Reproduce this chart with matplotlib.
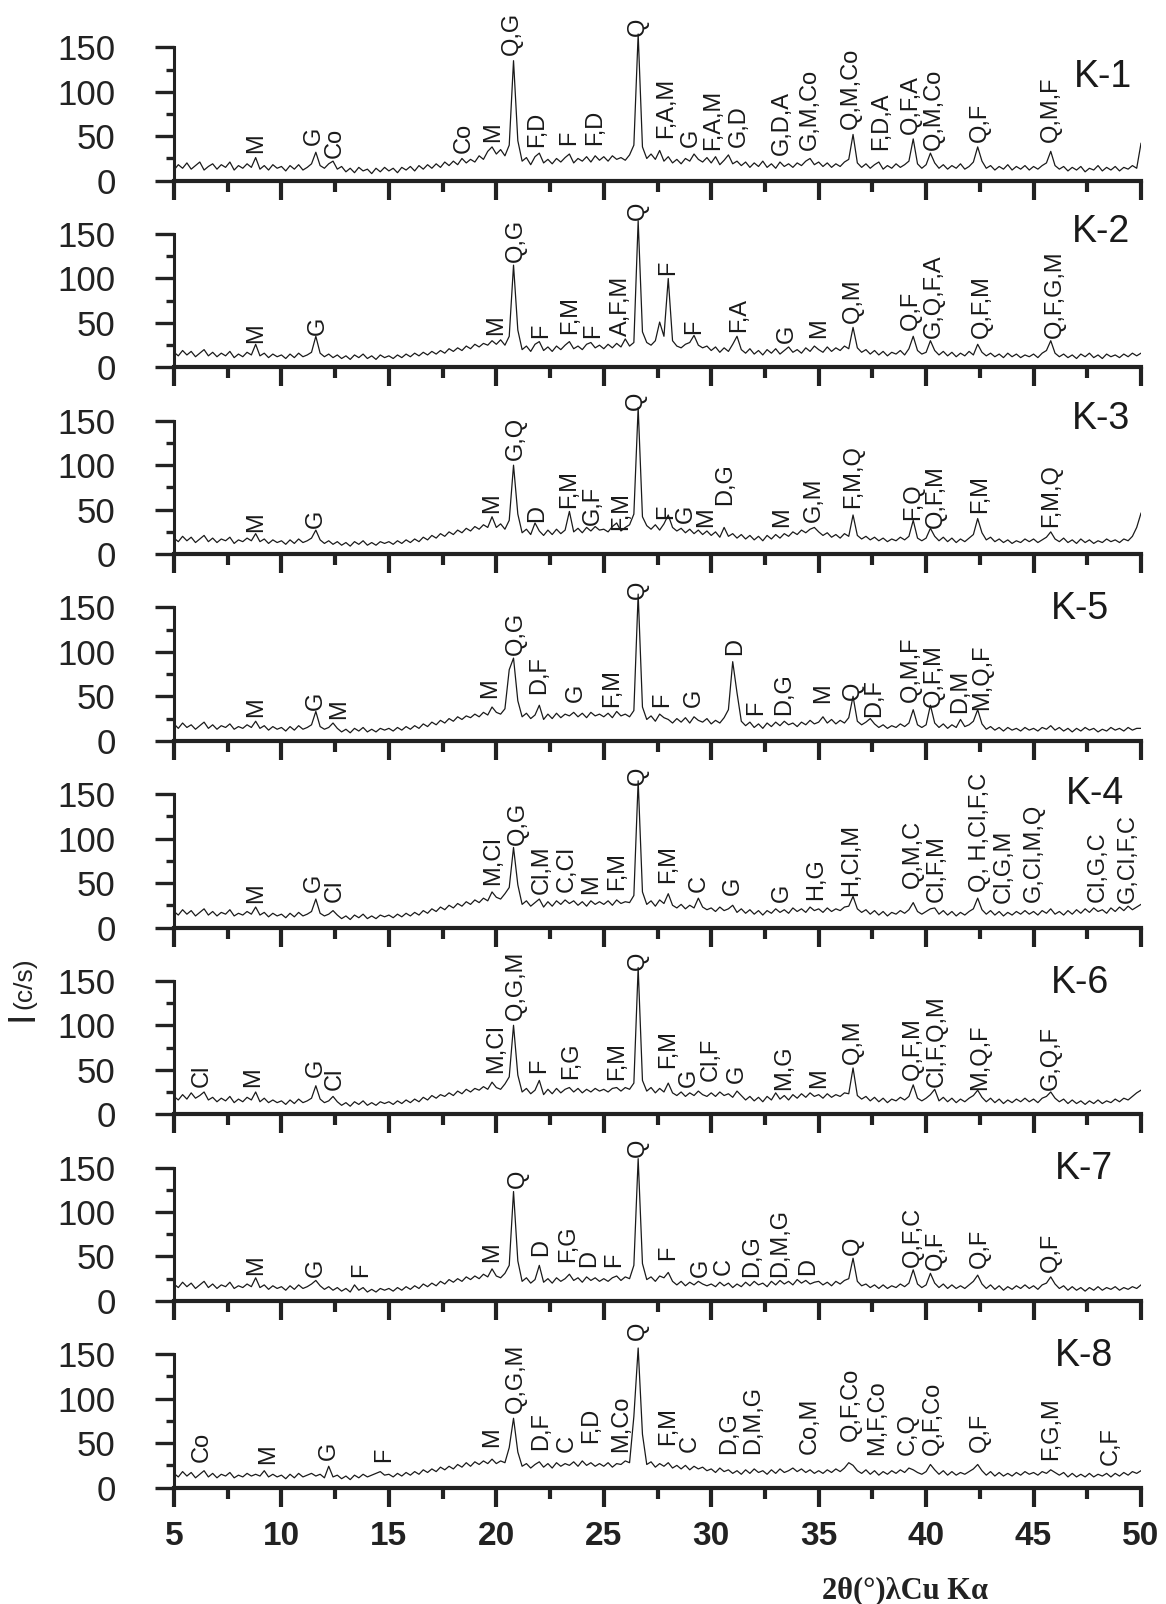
import numpy as np
import matplotlib.pyplot as plt
from matplotlib.ticker import MultipleLocator, FixedLocator

plt.rcParams['font.family'] = ['Liberation Sans', 'DejaVu Sans']

# 2-theta sampling of the scans (degrees, Cu K-alpha)
TWO_THETA = np.round(np.arange(5.0, 50.0001, 0.2), 1)

SAMPLES = ["K-1", "K-2", "K-3", "K-5", "K-4", "K-6", "K-7", "K-8"]

# intensities (c/s), one row per 5 degrees
K1 = [12, 18, 14, 20, 13, 17, 21, 12, 16, 19, 13, 18, 15, 21, 12, 17, 14, 19, 15, 26, 13, 17, 12, 18, 14,
      16, 11, 17, 13, 18, 12, 15, 19, 32, 17, 14, 19, 22, 13, 16, 10, 14, 9, 15, 11, 13, 8, 14, 10, 15,
      11, 14, 9, 15, 12, 16, 11, 17, 13, 18, 14, 19, 15, 21, 17, 22, 18, 25, 20, 24, 21, 28, 24, 33, 38,
      30, 35, 28, 40, 135, 45, 22, 26, 18, 27, 31, 20, 24, 19, 25, 21, 26, 30, 20, 25, 22, 27, 21, 28, 23,
      27, 22, 28, 24, 26, 23, 29, 40, 165, 38, 25, 30, 24, 34, 22, 27, 20, 24, 19, 25, 22, 30, 24, 21, 26,
      20, 27, 18, 23, 29, 19, 22, 17, 21, 15, 20, 16, 22, 15, 19, 14, 21, 16, 19, 15, 20, 17, 22, 25, 18,
      21, 16, 20, 15, 19, 16, 21, 24, 52, 20, 15, 19, 14, 18, 21, 13, 17, 14, 19, 15, 18, 22, 47, 19, 14,
      18, 31, 20, 14, 18, 13, 17, 14, 19, 13, 16, 21, 38, 22, 14, 17, 12, 16, 13, 18, 12, 16, 13, 17, 12,
      16, 13, 17, 20, 33, 17, 13, 16, 11, 15, 12, 16, 10, 14, 12, 17, 11, 15, 12, 16, 11, 15, 13, 17, 14,
      42]
K2 = [17, 13, 19, 14, 18, 12, 16, 20, 13, 17, 12, 16, 13, 18, 11, 15, 12, 17, 14, 26, 13, 16, 11, 15, 12,
      14, 10, 15, 11, 16, 12, 14, 17, 35, 16, 12, 15, 11, 14, 10, 13, 9, 14, 11, 15, 10, 13, 9, 14, 11,
      13, 10, 14, 11, 15, 12, 16, 13, 17, 14, 18, 15, 19, 16, 21, 18, 22, 19, 24, 21, 26, 23, 27, 25, 30,
      26, 31, 25, 35, 115, 42, 20, 24, 18, 26, 29, 19, 23, 18, 24, 20, 25, 29, 21, 24, 20, 26, 28, 22, 25,
      21, 26, 22, 27, 23, 32, 24, 28, 165, 40, 28, 25, 30, 51, 35, 100, 30, 24, 22, 26, 28, 36, 25, 22, 24,
      19, 23, 17, 22, 18, 26, 35, 20, 16, 21, 15, 19, 14, 20, 16, 21, 15, 19, 23, 17, 20, 16, 22, 18, 24,
      20, 17, 23, 18, 22, 19, 24, 21, 45, 22, 17, 20, 15, 19, 14, 18, 13, 17, 15, 19, 14, 21, 35, 19, 15,
      17, 30, 19, 14, 18, 13, 17, 12, 16, 13, 18, 14, 26, 17, 13, 16, 12, 15, 11, 16, 12, 15, 11, 14, 12,
      15, 11, 16, 19, 30, 16, 12, 15, 11, 14, 10, 15, 12, 16, 11, 14, 10, 15, 12, 14, 11, 15, 12, 16, 13,
      16]
K3 = [18, 14, 20, 15, 19, 13, 17, 21, 14, 18, 13, 17, 15, 19, 12, 16, 14, 18, 15, 23, 14, 17, 12, 16, 13,
      15, 11, 16, 12, 17, 13, 15, 18, 27, 16, 12, 15, 11, 14, 10, 13, 9, 14, 11, 15, 10, 13, 10, 14, 12,
      14, 11, 15, 12, 16, 13, 17, 14, 19, 16, 21, 18, 23, 20, 25, 22, 27, 24, 29, 26, 31, 28, 33, 30, 42,
      30, 34, 28, 38, 100, 45, 24, 28, 22, 35, 26, 21, 27, 22, 28, 23, 27, 48, 25, 29, 24, 30, 26, 31, 27,
      28, 25, 31, 35, 26, 30, 33, 45, 165, 42, 32, 28, 33, 27, 34, 44, 30, 26, 29, 24, 28, 23, 27, 22, 26,
      21, 25, 19, 30, 20, 23, 18, 22, 17, 21, 16, 20, 15, 21, 17, 22, 18, 23, 20, 25, 22, 27, 24, 28, 30,
      25, 21, 24, 19, 22, 18, 23, 20, 44, 21, 17, 20, 16, 19, 15, 18, 14, 17, 15, 19, 16, 20, 38, 18, 15,
      18, 29, 20, 15, 19, 14, 18, 13, 17, 14, 18, 22, 40, 24, 16, 19, 14, 17, 13, 16, 12, 15, 13, 17, 14,
      17, 13, 16, 19, 25, 17, 14, 18, 13, 16, 12, 17, 13, 16, 12, 15, 13, 17, 14, 16, 13, 17, 15, 20, 30,
      46]
K5 = [19, 14, 20, 15, 18, 13, 17, 21, 14, 18, 13, 17, 15, 19, 13, 16, 14, 18, 15, 22, 14, 17, 12, 16, 13,
      15, 11, 16, 12, 17, 13, 15, 18, 33, 16, 13, 15, 20, 14, 10, 13, 9, 14, 11, 15, 10, 13, 10, 14, 12,
      14, 11, 15, 12, 16, 13, 17, 14, 19, 16, 21, 18, 23, 20, 25, 22, 27, 24, 28, 26, 30, 27, 32, 29, 38,
      32, 30, 36, 80, 93, 45, 27, 31, 25, 29, 40, 24, 30, 25, 31, 26, 30, 28, 32, 27, 31, 26, 32, 28, 30,
      27, 31, 26, 33, 28, 30, 27, 34, 165, 38, 24, 28, 22, 30, 26, 24, 20, 25, 21, 26, 20, 27, 23, 21, 25,
      19, 23, 20, 26, 35, 89, 54, 22, 17, 21, 15, 19, 14, 20, 16, 21, 17, 22, 18, 20, 16, 21, 18, 23, 19,
      21, 27, 20, 24, 19, 23, 20, 26, 50, 22, 18, 21, 25, 19, 15, 18, 14, 17, 15, 19, 16, 20, 35, 18, 15,
      18, 40, 20, 15, 19, 14, 18, 15, 24, 16, 18, 22, 35, 19, 13, 16, 12, 15, 11, 15, 12, 14, 11, 15, 12,
      14, 11, 15, 13, 17, 12, 15, 11, 14, 10, 14, 11, 15, 12, 14, 10, 13, 11, 15, 12, 14, 11, 15, 12, 14,
      14]
K4 = [18, 14, 20, 15, 19, 13, 17, 21, 14, 18, 13, 17, 15, 20, 13, 16, 14, 18, 15, 23, 14, 17, 12, 16, 13,
      15, 11, 16, 12, 17, 13, 15, 18, 32, 16, 13, 15, 19, 14, 10, 13, 9, 14, 11, 15, 10, 13, 10, 14, 12,
      14, 11, 15, 12, 16, 13, 17, 14, 19, 16, 21, 18, 23, 20, 25, 22, 27, 24, 29, 26, 31, 28, 33, 30, 40,
      34, 32, 38, 45, 90, 48, 26, 30, 24, 28, 32, 23, 29, 24, 30, 26, 31, 27, 30, 25, 29, 24, 30, 26, 29,
      26, 30, 25, 31, 27, 29, 28, 36, 165, 40, 26, 30, 24, 31, 27, 38, 25, 22, 26, 21, 25, 22, 33, 23, 20,
      22, 18, 23, 19, 21, 25, 17, 21, 16, 20, 15, 19, 14, 19, 16, 21, 17, 20, 16, 22, 18, 21, 17, 23, 19,
      21, 17, 22, 18, 21, 19, 23, 24, 35, 21, 17, 20, 15, 19, 14, 18, 13, 17, 15, 19, 16, 20, 28, 18, 15,
      18, 21, 22, 15, 19, 14, 18, 13, 17, 14, 18, 21, 33, 20, 15, 19, 14, 18, 13, 17, 14, 18, 15, 19, 15,
      18, 14, 19, 16, 21, 15, 18, 14, 19, 15, 20, 16, 21, 17, 22, 18, 20, 16, 22, 18, 23, 19, 24, 20, 23,
      26]
K6 = [20, 16, 22, 17, 24, 18, 21, 25, 16, 19, 14, 18, 15, 20, 13, 17, 14, 19, 16, 25, 14, 18, 13, 16, 13,
      15, 11, 16, 12, 17, 13, 15, 18, 32, 17, 13, 15, 20, 14, 10, 13, 9, 14, 11, 15, 10, 13, 10, 14, 12,
      14, 11, 15, 12, 16, 13, 17, 14, 19, 16, 21, 18, 22, 20, 24, 21, 26, 23, 28, 25, 29, 27, 31, 28, 36,
      30, 28, 34, 42, 100, 44, 25, 29, 23, 27, 38, 22, 28, 23, 29, 24, 28, 30, 25, 29, 24, 28, 25, 29, 26,
      28, 25, 29, 30, 26, 30, 28, 35, 165, 38, 26, 30, 24, 29, 25, 35, 24, 21, 25, 20, 24, 21, 26, 22, 20,
      24, 20, 25, 21, 23, 19, 26, 21, 16, 20, 15, 19, 14, 20, 16, 24, 17, 21, 16, 22, 18, 23, 19, 24, 20,
      22, 18, 23, 19, 22, 20, 24, 23, 52, 21, 17, 20, 15, 19, 14, 18, 13, 17, 15, 19, 16, 20, 33, 18, 15,
      18, 22, 28, 15, 19, 14, 18, 13, 17, 14, 18, 21, 27, 19, 14, 18, 13, 17, 12, 16, 13, 17, 14, 18, 14,
      17, 13, 18, 20, 25, 18, 14, 17, 12, 16, 12, 15, 11, 15, 12, 16, 12, 15, 13, 17, 14, 18, 16, 20, 24,
      27]
K7 = [19, 15, 21, 16, 20, 14, 18, 22, 15, 19, 14, 18, 16, 21, 14, 17, 15, 19, 16, 26, 15, 18, 13, 17, 14,
      16, 12, 17, 13, 18, 14, 16, 19, 23, 17, 13, 16, 12, 15, 11, 14, 10, 18, 12, 15, 10, 13, 10, 14, 12,
      14, 11, 15, 12, 16, 13, 17, 14, 19, 16, 20, 17, 22, 19, 24, 21, 25, 22, 27, 24, 28, 25, 30, 27, 36,
      28, 26, 31, 40, 123, 45, 22, 26, 20, 24, 40, 21, 25, 20, 26, 22, 25, 30, 23, 26, 21, 27, 23, 26, 22,
      25, 22, 26, 28, 23, 27, 25, 40, 160, 42, 24, 27, 22, 28, 26, 32, 22, 18, 22, 17, 21, 18, 22, 19, 17,
      19, 16, 21, 17, 20, 15, 19, 16, 21, 17, 22, 18, 20, 16, 22, 18, 23, 19, 22, 18, 24, 20, 23, 19, 21,
      22, 18, 21, 17, 22, 19, 23, 25, 48, 22, 17, 19, 15, 18, 14, 18, 14, 17, 15, 19, 16, 20, 35, 19, 15,
      18, 31, 20, 15, 19, 14, 18, 14, 17, 14, 18, 22, 29, 19, 14, 18, 13, 17, 12, 16, 13, 17, 14, 18, 14,
      17, 13, 18, 20, 27, 19, 14, 17, 12, 16, 12, 15, 11, 15, 12, 16, 12, 15, 13, 16, 12, 15, 13, 16, 14,
      18]
K8 = [16, 12, 18, 13, 17, 11, 15, 19, 12, 16, 11, 15, 13, 17, 11, 14, 12, 16, 13, 15, 13, 19, 12, 15, 12,
      14, 10, 15, 11, 16, 12, 14, 16, 13, 15, 11, 24, 12, 14, 10, 13, 9, 14, 11, 15, 12, 14, 16, 18, 14,
      15, 12, 16, 13, 17, 14, 18, 15, 20, 17, 21, 18, 23, 20, 24, 21, 26, 23, 28, 24, 29, 26, 30, 27, 32,
      27, 30, 28, 45, 78, 40, 24, 27, 22, 26, 29, 23, 27, 22, 28, 24, 27, 25, 29, 24, 30, 25, 28, 24, 27,
      24, 28, 23, 27, 26, 30, 28, 80, 157, 60, 26, 29, 23, 27, 24, 28, 22, 25, 21, 25, 20, 24, 21, 23, 19,
      21, 17, 22, 18, 20, 16, 19, 15, 20, 16, 21, 17, 19, 15, 20, 16, 21, 17, 19, 22, 18, 21, 17, 20, 16,
      19, 16, 20, 17, 21, 18, 22, 28, 25, 19, 16, 20, 15, 19, 14, 18, 15, 19, 16, 20, 17, 22, 20, 17, 15,
      18, 26, 20, 15, 19, 14, 18, 14, 17, 15, 18, 21, 26, 19, 14, 18, 13, 17, 13, 16, 13, 17, 14, 18, 15,
      17, 14, 18, 16, 20, 17, 14, 17, 12, 16, 12, 15, 12, 16, 12, 15, 13, 16, 12, 16, 13, 17, 14, 18, 16,
      19]

# phase labels: (text, 2-theta, height of label foot in c/s)
K1_PEAKS = [("M", 8.8, 31), ("G", 11.5, 40), ("Co", 12.5, 25), ("Co", 18.5, 31), ("M", 19.85, 44),
            ("Q,G", 20.7, 141), ("F,D", 21.9, 38), ("F", 23.4, 40), ("F,D", 24.6, 40), ("Q", 26.6, 163),
            ("F,A,M", 27.9, 48), ("G", 29.05, 38), ("F,A,M", 30.1, 35), ("G,D", 31.3, 38),
            ("G,D,A", 33.3, 29), ("G,M,Co", 34.6, 35), ("Q,M,Co", 36.5, 58), ("F,D,A", 37.9, 35),
            ("Q,F,A", 39.3, 53), ("Q,M,Co", 40.35, 35), ("Q,F", 42.5, 44), ("Q,M,F", 45.8, 44)]
K2_PEAKS = [("M", 8.8, 27), ("G", 11.7, 36), ("M", 20.0, 36), ("Q,G", 20.9, 119), ("F", 22.1, 33),
            ("F,M", 23.45, 38), ("F", 24.5, 33), ("A,F,M", 25.8, 35), ("Q", 26.6, 166), ("F", 28.0, 104),
            ("F", 29.2, 38), ("F,A", 31.3, 40), ("G", 33.5, 27), ("M", 35.0, 33), ("Q,M", 36.6, 50),
            ("Q,F", 39.3, 42), ("G,Q,F,A", 40.35, 33), ("Q,F,M", 42.6, 33), ("Q,F,G,M", 46.0, 33)]
K3_PEAKS = [("M", 8.8, 25), ("G", 11.6, 29), ("M", 19.8, 46), ("G,Q", 20.9, 106), ("D", 21.9, 36),
            ("F,M", 23.4, 52), ("G,F", 24.5, 33), ("F,M", 25.8, 27), ("Q", 26.5, 162), ("F", 27.9, 40),
            ("G", 28.8, 35), ("M", 29.75, 31), ("D,G", 30.65, 55), ("M", 33.3, 31), ("G,M", 34.8, 36),
            ("F,M,Q", 36.6, 52), ("F,Q", 39.4, 38), ("Q,F,M", 40.45, 29), ("F,M", 42.5, 46),
            ("F,M,Q", 45.8, 31)]
K5_PEAKS = [("M", 8.8, 27), ("G", 11.6, 35), ("M", 12.7, 25), ("M", 19.7, 48), ("Q,G", 20.9, 97),
            ("D,F", 22.0, 53), ("G", 23.7, 44), ("F,M", 25.4, 38), ("Q", 26.6, 160), ("F", 27.7, 38),
            ("G", 29.2, 38), ("D", 31.1, 97), ("F", 32.1, 29), ("D,G", 33.4, 29), ("M", 35.2, 42),
            ("Q", 36.6, 46), ("D,F", 37.6, 27), ("Q,M,F", 39.3, 44), ("Q,F,M", 40.35, 38),
            ("D,M", 41.6, 31), ("M,Q,F", 42.6, 35)]
K4_PEAKS = [("M", 8.8, 27), ("G", 11.5, 40), ("Cl", 12.5, 29), ("M,Cl", 19.85, 48), ("Q,G", 21.0, 93),
            ("Cl,M", 22.1, 38), ("C,Cl", 23.3, 40), ("M", 24.4, 38), ("F,M", 25.6, 42), ("Q", 26.6, 160),
            ("F,M", 28.0, 50), ("C", 29.4, 40), ("G", 31.0, 37), ("G", 33.3, 29), ("H,G", 34.9, 31),
            ("H,Cl,M", 36.5, 35), ("Q,M,C", 39.4, 44), ("Cl,F,M", 40.5, 29), ("Q, H,Cl,F,C", 42.5, 40),
            ("Cl,G,M", 43.6, 27), ("G,Cl,M,Q", 45.0, 29), ("Cl,G,C", 48.0, 29), ("G,Cl,F,C", 49.4, 27)]
K6_PEAKS = [("Cl", 6.3, 31), ("M", 8.7, 31), ("G", 11.6, 42), ("Cl", 12.5, 27), ("M,Cl", 20.0, 46),
            ("Q,G,M", 20.9, 106), ("F", 22.0, 46), ("F,G", 23.5, 40), ("F,M", 25.6, 38), ("Q", 26.6, 162),
            ("F,M", 28.0, 52), ("G", 28.95, 31), ("Cl,F", 30.0, 37), ("G", 31.2, 35), ("M,G", 33.4, 27),
            ("M", 35.0, 29), ("Q,M", 36.6, 57), ("Q,F,M", 39.4, 38), ("Cl,F,Q,M", 40.5, 31),
            ("M,Q,F", 42.5, 27), ("G,Q,F", 45.8, 27)]
K7_PEAKS = [("M", 8.8, 29), ("G", 11.6, 27), ("F", 13.7, 27), ("M", 19.8, 44), ("Q", 21.0, 127),
            ("D", 22.1, 50), ("F,G", 23.35, 44), ("D", 24.3, 38), ("F", 25.5, 38), ("Q", 26.6, 162),
            ("F", 28.0, 46), ("G", 29.5, 27), ("C", 30.6, 29), ("D,G", 31.9, 27), ("D,M,G", 33.2, 27),
            ("D", 34.5, 29), ("Q", 36.6, 52), ("Q,F,C", 39.4, 38), ("Q,F", 40.45, 35), ("Q,F", 42.5, 37),
            ("Q,F", 45.8, 33)]
K8_PEAKS = [("Co", 6.3, 29), ("M", 9.4, 27), ("G", 12.2, 31), ("F", 14.8, 29), ("M", 19.8, 46),
            ("Q,G,M", 20.9, 84), ("D,F", 22.1, 42), ("C", 23.3, 40), ("F,D", 24.4, 50), ("M,Co", 25.8, 40),
            ("Q", 26.6, 166), ("F,M", 28.0, 48), ("C", 29.0, 40), ("D,G", 30.85, 38), ("D,M,G", 31.95, 38),
            ("Co,M", 34.6, 38), ("Q,F,Co", 36.5, 52), ("M,F,Co", 37.7, 37), ("C,Q", 39.15, 37),
            ("Q,F,Co", 40.3, 37), ("Q,F", 42.5, 40), ("F,G,M", 45.8, 31), ("C,F", 48.6, 25)]

SPECTRA = [K1, K2, K3, K5, K4, K6, K7, K8]
PEAKS = [K1_PEAKS, K2_PEAKS, K3_PEAKS, K5_PEAKS, K4_PEAKS, K6_PEAKS, K7_PEAKS, K8_PEAKS]
# where the sample name sits (right edge 2-theta, c/s)
NAME_POS = [(49.6, 117), (49.5, 152), (49.5, 152), (48.5, 148),
            (49.2, 150), (48.5, 148), (48.7, 148), (48.7, 148)]

W, H = 1166, 1604
fig = plt.figure(figsize=(W / 100, H / 100), dpi=100)

x_left, x_right = 174, 1141
zero0, step = 180.7, 186.7
ytop = 210
ink = '#222222'

for i, (name, y, peaks) in enumerate(zip(SAMPLES, SPECTRA, PEAKS)):
    if len(y) != len(TWO_THETA):
        raise ValueError(f"{name}: {len(y)} points")
    zero = zero0 + step * i
    ax = fig.add_axes([x_left / W, 1 - zero / H, (x_right - x_left) / W, step / H])
    ax.patch.set_alpha(0)
    ax.plot(TWO_THETA, y, color='#1a1a1a', lw=0.9)
    ax.set_xlim(5, 50)
    ax.set_ylim(0, ytop)

    for s in ('top', 'right'):
        ax.spines[s].set_visible(False)
    ax.spines['left'].set_bounds(0, 150)
    ax.spines['left'].set_linewidth(2.2)
    ax.spines['bottom'].set_linewidth(3.0)
    for s in ('left', 'bottom'):
        ax.spines[s].set_color(ink)

    ax.yaxis.set_major_locator(FixedLocator([0, 50, 100, 150]))
    ax.yaxis.set_minor_locator(FixedLocator([25, 75, 125]))
    ax.xaxis.set_major_locator(MultipleLocator(5))
    ax.xaxis.set_minor_locator(MultipleLocator(2.5))
    ax.tick_params(axis='y', which='major', direction='out', length=14, width=2.4,
                   color=ink, labelsize=25, pad=28, labelcolor=ink)
    ax.tick_params(axis='y', which='minor', direction='out', length=6, width=2.4, color=ink)
    ax.tick_params(axis='x', which='major', direction='out', length=14, width=3.0,
                   color=ink, labelsize=24, pad=10, labelcolor=ink)
    ax.tick_params(axis='x', which='minor', direction='out', length=8, width=3.0, color=ink)

    if i < len(SAMPLES) - 1:
        ax.tick_params(axis='x', labelbottom=False)
    else:
        for lab in ax.get_xticklabels():
            lab.set_fontweight('bold')

    for txt, pos, base in peaks:
        ax.text(pos, base, txt, rotation=90, ha='center', va='bottom', fontsize=17,
                color='#1a1a1a', clip_on=False)

    nx, ny = NAME_POS[i]
    ax.text(nx, ny, name, ha='right', va='center', fontsize=27, color='#1a1a1a')

# axis titles: a large "I" with the unit in smaller type above it
fig.text(22 / W, 1 - 1021 / H, "I", rotation=90, ha='center', va='bottom',
         fontsize=27, color=ink)
fig.text(24 / W, 1 - 1009 / H, "(c/s)", rotation=90, ha='center', va='bottom',
         fontsize=19, color=ink)
fig.text(905 / W, 1 - 1591 / H, "2θ(°)λCu Kα", ha='center', va='center', fontsize=22,
         fontweight='bold', family=['Liberation Serif', 'DejaVu Serif'], color=ink)

fig.savefig("out.png", dpi=100)
